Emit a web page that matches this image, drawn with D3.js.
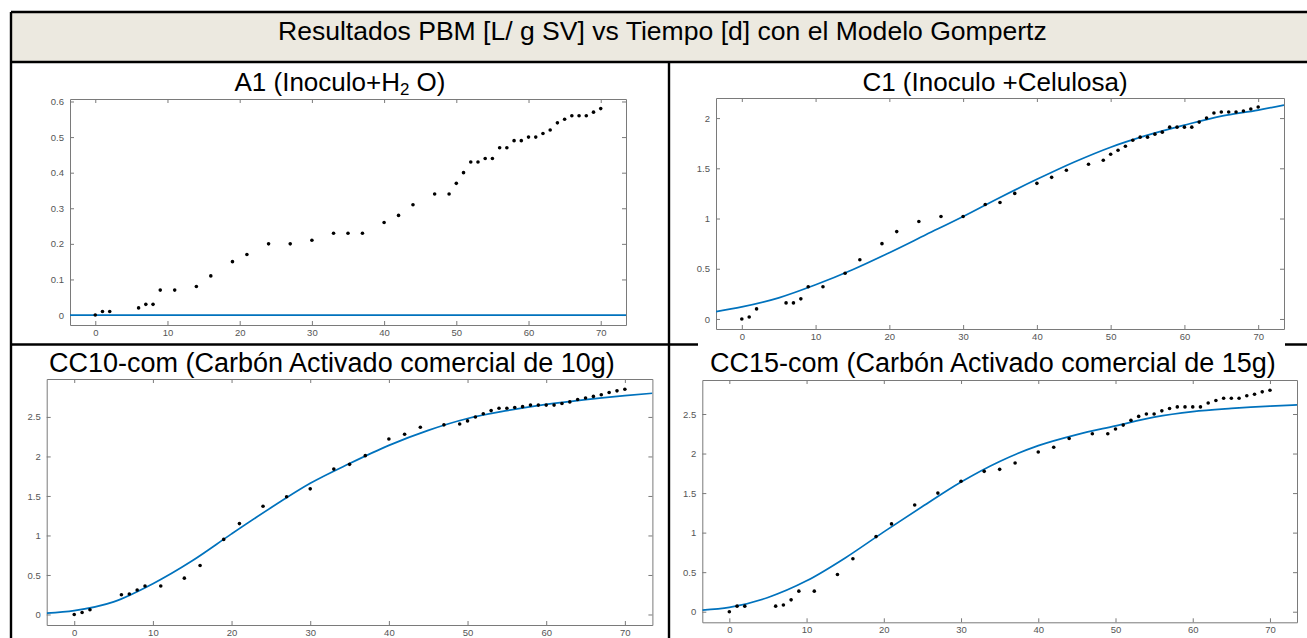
<!DOCTYPE html>
<html>
<head>
<meta charset="utf-8">
<script src="https://cdn.jsdelivr.net/npm/d3@7"></script>
<style>
  body { margin: 0; background: #fff; }
  svg { display: block; font-family: "Liberation Sans", Arial, sans-serif; }
  .axis path, .axis line { stroke: #7a7a7a; }
  .axis text { font-size: 9.5px; fill: #555; font-family: "Liberation Sans Narrow", "Arial Narrow", "Liberation Sans", Arial, sans-serif; }
  .title { fill: #000; }
</style>
</head>
<body>
<div id="chart"></div>
<script>
// measurement days (same for every sample)
const days = [0,1,2,6,7,8,9,11,14,16,19,21,24,27,30,33,35,37,40,42,44,47,49,
  50,51,52,53,54,55,56,57,58,59,60,61,62,63,64,65,66,67,68,69,70];

// PBM [L/ g SV]
const a1Values = [0,0.01,0.01,0.02,0.03,0.03,0.07,0.07,0.08,0.11,0.15,0.17,0.20,0.20,0.21,0.23,0.23,0.23,
  0.26,0.28,0.31,0.34,0.34,0.37,0.40,0.43,0.43,0.44,0.44,0.47,0.47,0.49,0.49,0.50,0.50,0.51,0.52,
  0.54,0.55,0.56,0.56,0.56,0.57,0.58];
const c1Values = [0,0.02,0.10,0.16,0.16,0.20,0.32,0.32,0.455,0.59,0.75,0.87,0.97,1.02,1.02,1.14,1.16,1.25,
  1.35,1.41,1.48,1.54,1.58,1.64,1.68,1.72,1.78,1.81,1.81,1.84,1.86,1.91,1.91,1.91,1.91,1.96,2.00,
  2.05,2.06,2.06,2.06,2.07,2.09,2.11];
const cc10Values = [0,0.025,0.06,0.25,0.26,0.31,0.36,0.36,0.46,0.62,0.95,1.15,1.37,1.49,1.59,1.84,1.90,2.01,
  2.22,2.28,2.37,2.40,2.41,2.45,2.50,2.54,2.58,2.61,2.61,2.62,2.63,2.65,2.65,2.65,2.65,2.67,2.69,
  2.72,2.74,2.76,2.78,2.81,2.83,2.85];
const cc15Values = [0,0.07,0.07,0.07,0.085,0.15,0.26,0.26,0.47,0.67,0.95,1.11,1.35,1.50,1.65,1.775,1.80,1.88,
  2.02,2.08,2.19,2.25,2.25,2.31,2.36,2.42,2.47,2.50,2.50,2.54,2.57,2.59,2.59,2.59,2.59,2.64,2.67,
  2.70,2.70,2.70,2.73,2.75,2.78,2.80];

// Gompertz fit curves, read at these days
const fitDays = [-3.5,0,5,10,15,20,25,30,35,40,45,50,55,60,65,70,73.5];
const a1Fit   = [0,0,0,0,0,0,0,0,0,0,0,0,0,0,0,0,0];
const c1Fit   = [0.073,0.12,0.21,0.34,0.49,0.66,0.84,1.02,1.21,1.39,1.56,1.71,1.83,1.93,2.02,2.08,2.13];
const cc10Fit = [0.017,0.05,0.16,0.39,0.68,1.02,1.35,1.66,1.91,2.14,2.33,2.48,2.58,2.66,2.72,2.77,2.80];
const cc15Fit = [0.02,0.055,0.18,0.39,0.68,1.01,1.33,1.64,1.90,2.10,2.24,2.35,2.46,2.53,2.57,2.60,2.615];

// tick labels
const xTicks = [0,10,20,30,40,50,60,70];
const a1YTicks = [0,0.1,0.2,0.3,0.4,0.5,0.6];
const c1YTicks = [0,0.5,1,1.5,2];
const ccYTicks = [0,0.5,1,1.5,2,2.5];

const headerTitle = "Resultados PBM [L/ g SV] vs Tiempo [d] con el Modelo Gompertz";

let svg = d3.select("#chart").append("svg")
  .attr("width", 1307)
  .attr("height", 638);

// font size that makes a piece of text as wide as in the reference
function fitFont(str, width){
  let probe = svg.append("text").attr("font-size", 30).text(str);
  let len = probe.node().getComputedTextLength();
  probe.remove();
  return 30 * width / len;
}

// table frame
svg.append("rect").attr("x", 11).attr("y", 12).attr("width", 1300).attr("height", 50)
  .attr("fill", "#ECE9E0");
let borders = [
  [11, 12, 1307, 12], [11, 12, 11, 638], [11, 62, 1307, 62],
  [669, 62, 669, 638], [11, 344.5, 1307, 344.5]
];
svg.selectAll(".border").data(borders).enter().append("line")
  .attr("class", "border")
  .attr("x1", d => d[0]).attr("y1", d => d[1])
  .attr("x2", d => d[2]).attr("y2", d => d[3])
  .attr("stroke", "#000").attr("stroke-width", 2.4);

svg.append("text")
  .attr("x", 278).attr("y", 40)
  .attr("font-size", fitFont(headerTitle, 769))
  .text(headerTitle);

// figure background of C1 covers part of the row line
svg.append("rect").attr("x", 698).attr("y", 95).attr("width", 587).attr("height", 252)
  .attr("fill", "#fff");

let ccSize = fitFont("CC10-com (Carbón Activado comercial", 467);

let panels = [
  { id: "a1", values: a1Values, fit: a1Fit, yTicks: a1YTicks, yDomain: [-0.028, 0.607],
    box: {left: 70, right: 626, top: 99, bottom: 325},
    title: {x: 340, y: 91, size: 26, anchor: "middle", parts: ["A1 (Inoculo+H", "2", " O)"]} },
  { id: "c1", values: c1Values, fit: c1Fit, yTicks: c1YTicks, yDomain: [-0.1, 2.2],
    box: {left: 716, right: 1284, top: 98, bottom: 329},
    title: {x: 995, y: 91, size: 26, anchor: "middle", parts: ["C1 (Inoculo +Celulosa)"]} },
  { id: "cc10", values: cc10Values, fit: cc10Fit, yTicks: ccYTicks, yDomain: [-0.133, 2.98],
    box: {left: 46.7, right: 652.4, top: 379, bottom: 625},
    title: {x: 49, y: 372, size: ccSize, anchor: "start", parts: ["CC10-com (Carbón Activado comercial de 10g)"]} },
  { id: "cc15", values: cc15Values, fit: cc15Fit, yTicks: ccYTicks, yDomain: [-0.134, 2.93],
    box: {left: 702.3, right: 1297, top: 380, bottom: 622.3},
    title: {x: 710, y: 372, size: ccSize, anchor: "start", parts: ["CC15-com (Carbón Activado comercial de 15g)"]} }
];

panels.forEach(drawPanel);

function drawPanel(p){
  let b = p.box;
  let x = d3.scaleLinear().domain([-3.5, 73.5]).range([b.left, b.right]);
  let y = d3.scaleLinear().domain(p.yDomain).range([b.bottom, b.top]);

  // title
  let t = svg.append("text")
    .attr("class", "title")
    .attr("x", p.title.x).attr("y", p.title.y)
    .attr("text-anchor", p.title.anchor)
    .attr("font-size", p.title.size);
  t.append("tspan").text(p.title.parts[0]);
  if (p.title.parts.length > 1){
    t.append("tspan").attr("dy", 4).attr("font-size", p.title.size * 0.65).text(p.title.parts[1]);
    t.append("tspan").attr("dy", -4).text(p.title.parts[2]);
  }

  let g = svg.append("g");

  g.append("rect")
    .attr("x", b.left).attr("y", b.top)
    .attr("width", b.right - b.left).attr("height", b.bottom - b.top)
    .attr("fill", "#fff");

  g.append("clipPath").attr("id", "clip-" + p.id)
    .append("rect")
    .attr("x", b.left).attr("y", b.top)
    .attr("width", b.right - b.left).attr("height", b.bottom - b.top);

  // axes, MATLAB style: box with ticks pointing inwards
  g.append("g").attr("class", "axis")
    .attr("transform", "translate(0," + b.bottom + ")")
    .call(d3.axisBottom(x).tickValues(xTicks).tickSizeInner(-4).tickSizeOuter(0).tickPadding(4));
  g.append("g").attr("class", "axis")
    .attr("transform", "translate(0," + b.top + ")")
    .call(d3.axisTop(x).tickValues(xTicks).tickSizeInner(-4).tickSizeOuter(0).tickFormat(""));
  g.append("g").attr("class", "axis")
    .attr("transform", "translate(" + b.left + ",0)")
    .call(d3.axisLeft(y).tickValues(p.yTicks).tickSizeInner(-4).tickSizeOuter(0).tickPadding(6)
      .tickFormat(d3.format("")));
  g.append("g").attr("class", "axis")
    .attr("transform", "translate(" + b.right + ",0)")
    .call(d3.axisRight(y).tickValues(p.yTicks).tickSizeInner(-4).tickSizeOuter(0).tickFormat(""));

  let line = d3.line()
    .x((d, i) => x(fitDays[i]))
    .y(d => y(d))
    .curve(d3.curveMonotoneX);

  g.append("path")
    .datum(p.fit)
    .attr("clip-path", "url(#clip-" + p.id + ")")
    .attr("fill", "none")
    .attr("stroke", "#0072BD")
    .attr("stroke-width", 1.7)
    .attr("d", line);

  g.selectAll(".dot")
    .data(p.values)
    .enter().append("circle")
      .attr("class", "dot")
      .attr("cx", (d, i) => x(days[i]))
      .attr("cy", d => y(d))
      .attr("r", 1.8)
      .attr("fill", "#000");
}
</script>
</body>
</html>
